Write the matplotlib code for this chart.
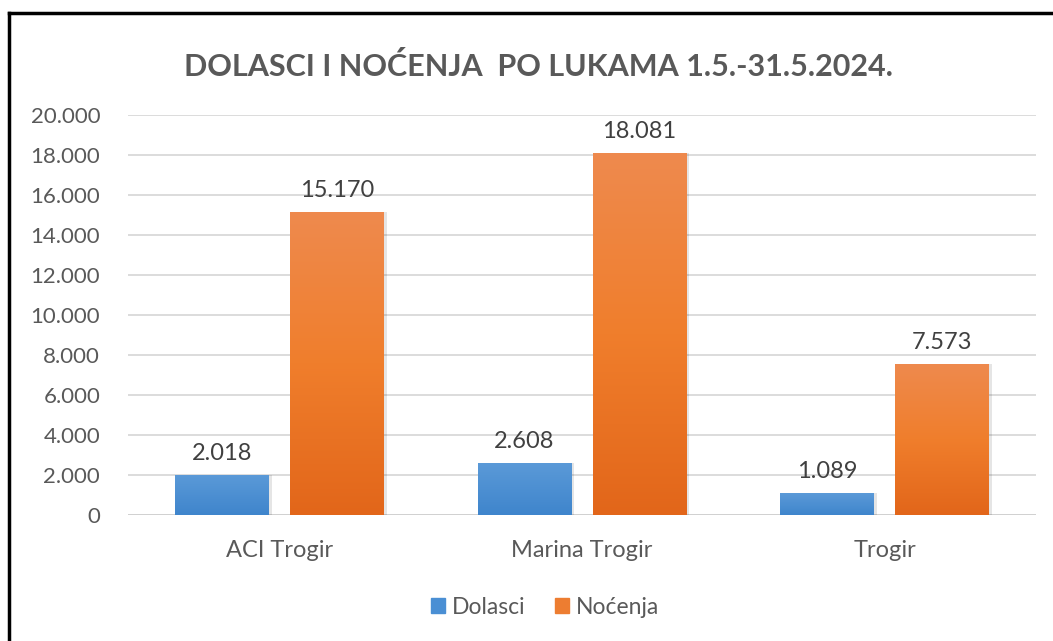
import numpy as np
import matplotlib.pyplot as plt
from matplotlib.patches import Rectangle
from matplotlib.lines import Line2D
from matplotlib.colors import LinearSegmentedColormap

plt.rcParams['font.family'] = ['Lato', 'DejaVu Sans']

ports = ['ACI Trogir', 'Marina Trogir', 'Trogir']
dolasci = [2018, 2608, 1089]
nocenja = [15170, 18081, 7573]
yticks = list(range(0, 20001, 2000))


def fmt(v):
    return f"{v:,}".replace(',', '.')


fig = plt.figure(figsize=(10.53, 6.41), dpi=100)
ax = fig.add_axes([128 / 1053, 1 - 515 / 641, (1036 - 128) / 1053, 400 / 641])

x = np.arange(len(ports))
w = 0.31
off = 0.19

blue_cm = LinearSegmentedColormap.from_list('b', ['#3f85cc', '#5b9ad8'])
orange_cm = LinearSegmentedColormap.from_list('o', ['#e2661a', '#f07e2c', '#ee8a4e'])
grad = np.linspace(0, 1, 256).reshape(-1, 1)

for series, dx, cm in [(dolasci, -off, blue_cm), (nocenja, off, orange_cm)]:
    for xi, v in zip(x, series):
        left = xi + dx - w / 2
        # soft shadow
        ax.add_patch(Rectangle((left + 0.01, 0), w, v, color='#000000',
                               alpha=0.1, lw=0, zorder=2))
        im = ax.imshow(grad, cmap=cm, aspect='auto', origin='lower',
                       extent=(left, left + w, 0, v), zorder=3)
        r = Rectangle((left, 0), w, v, fill=False, lw=0, zorder=3)
        ax.add_patch(r)
        im.set_clip_path(r)
        ax.text(xi + dx, v + 550, fmt(v), ha='center', va='bottom',
                fontsize=17, color='#404040', zorder=4)

ax.set_xlim(-0.5, 2.5)
ax.set_ylim(0, 20000)
ax.set_yticks(yticks)
ax.set_yticklabels([fmt(t) for t in yticks])
ax.set_xticks(x)
ax.set_xticklabels(ports, fontsize=17)
ax.tick_params(axis='both', length=0, labelcolor='#595959')
ax.tick_params(axis='y', pad=20, labelsize=16)
ax.tick_params(axis='x', pad=18)
ax.grid(axis='y', color='#d9d9d9', lw=1.3, zorder=0)
ax.set_axisbelow(True)
for s in ax.spines.values():
    s.set_visible(False)
ax.axhline(0, color='#d0d0d0', lw=1.3, zorder=1)

fig.text(538 / 1053, 1 - 67 / 641, 'DOLASCI I NOĆENJA  PO LUKAMA 1.5.-31.5.2024.',
         ha='center', va='center', fontsize=22, fontweight='bold', color='#595959')

handles = [Rectangle((0, 0), 1, 1, color='#4a8fd4'),
           Rectangle((0, 0), 1, 1, color='#ed7d31')]
fig.legend(handles, ['Dolasci', 'Noćenja'], loc='center',
           bbox_to_anchor=(545 / 1053, 1 - 607 / 641), ncol=2, frameon=False,
           fontsize=16.5, labelcolor='#595959', handlelength=0.6, handleheight=0.6,
           handletextpad=0.3, columnspacing=1.3)

# frame lines (left and top)
fig.add_artist(Line2D([9 / 1053, 9 / 1053], [0, 1 - 13 / 641], color='black',
                      lw=2.5, transform=fig.transFigure))
fig.add_artist(Line2D([9 / 1053, 1], [1 - 13 / 641, 1 - 13 / 641], color='black',
                      lw=2.5, transform=fig.transFigure))

fig.savefig('out.png', dpi=100)
